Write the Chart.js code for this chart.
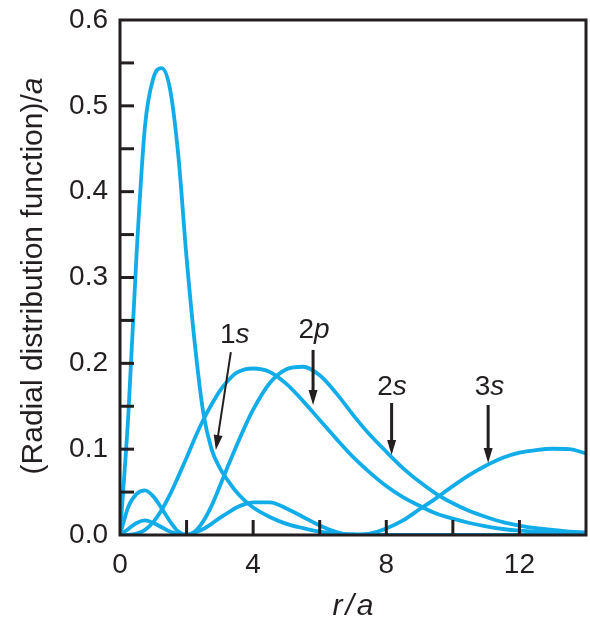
<!DOCTYPE html>
<html><head><meta charset="utf-8">
<script src="https://cdn.jsdelivr.net/npm/chart.js@4.4.1/dist/chart.umd.min.js"></script>
<style>html,body{margin:0;padding:0;background:#fff;}#wrap{width:590px;height:620px;}</style>
</head><body><div id="wrap"><canvas id="c" width="590" height="620"></canvas></div>
<script>
// r / a values (x) shared by all series
const rValues = [0,0.25,0.5,0.75,1,1.25,1.5,1.75,2,2.25,2.5,2.75,3,3.25,3.5,3.75,4,4.5,5,5.5,6,6.5,7,7.5,8,8.5,9,9.5,10,10.5,11,11.5,12,12.5,13,13.5,14];
const rdf1s = [0,0.14,0.329,0.476,0.532,0.544,0.52,0.443,0.323,0.222,0.143,0.1,0.078,0.063,0.05,0.04,0.032,0.021,0.013,0.008,0.004,0.002,0.001,0.0005,0,0,0,0,0,0,0,0,0,0,0,0,0];
const rdf2s = [0,0.033,0.048,0.052,0.045,0.031,0.016,0.004,0,0.004,0.016,0.034,0.057,0.081,0.104,0.126,0.146,0.177,0.193,0.196,0.186,0.165,0.14,0.117,0.097,0.078,0.062,0.048,0.037,0.028,0.021,0.015,0.011,0.008,0.006,0.004,0.003];
const rdf2p = [0,0.0001,0.0016,0.006,0.015,0.029,0.047,0.068,0.09,0.113,0.134,0.152,0.168,0.18,0.189,0.193,0.194,0.19,0.176,0.156,0.134,0.112,0.091,0.073,0.057,0.044,0.034,0.025,0.019,0.014,0.01,0.007,0.005,0.004,0.003,0.002,0.001];
const rdf3s = [0,0.007,0.014,0.017,0.014,0.009,0.004,0.001,0.0002,0.003,0.007,0.013,0.02,0.026,0.032,0.036,0.038,0.038,0.031,0.021,0.011,0.0035,0.0001,0.0016,0.0076,0.017,0.03,0.043,0.057,0.07,0.081,0.09,0.096,0.099,0.1005,0.1,0.095];
const xTickLabels = [0,4,8,12];
const yTickLabels = ['0.0','0.1','0.2','0.3','0.4','0.5','0.6'];
const curveNames = ['1s','2s','2p','3s'];

const INK = '#231f20';
const CYAN = '#12ade9';
const FAMILY = "'Liberation Sans', Arial, Helvetica, sans-serif";

// label annotations (data coordinates)
const notes = [
  {num:'1', letter:'s', tx:3.45, ty:0.224, from:[3.33,0.213], to:[2.88,0.099], w:2},
  {num:'2', letter:'p', tx:5.83, ty:0.2296, from:[5.8,0.2156], to:[5.8,0.1515], w:3},
  {num:'2', letter:'s', tx:8.17, ty:0.163, from:[8.16,0.1538], to:[8.16,0.0932], w:3},
  {num:'3', letter:'s', tx:11.1, ty:0.163, from:[11.06,0.1515], to:[11.06,0.0839], w:3}
];

function toPoints(ys){ return rValues.map((r,i)=>({x:r,y:ys[i]})); }
const series = [rdf1s, rdf2s, rdf2p, rdf3s];

const framePlugin = {
  id:'frame',
  afterDatasetsDraw(chart){
    const {ctx, chartArea:a, scales:{x,y}} = chart;
    ctx.save();
    ctx.strokeStyle = INK;
    ctx.lineWidth = 3;
    ctx.lineCap = 'butt';
    x.ticks.forEach(t=>{
      if (t.value<=x.min || t.value>=x.max) return;
      const px = x.getPixelForValue(t.value);
      ctx.beginPath(); ctx.moveTo(px,a.bottom); ctx.lineTo(px,a.bottom-15); ctx.stroke();
    });
    y.ticks.forEach(t=>{
      if (t.value<=y.min+1e-9 || t.value>=y.max-1e-9) return;
      const py = y.getPixelForValue(t.value);
      ctx.beginPath(); ctx.moveTo(a.left,py); ctx.lineTo(a.left+14,py); ctx.stroke();
    });
    ctx.beginPath();
    ctx.moveTo(a.left, a.top); ctx.lineTo(a.right, a.top);
    ctx.lineTo(a.right, a.bottom); ctx.lineTo(a.left, a.bottom); ctx.closePath();
    ctx.stroke();

    ctx.fillStyle = INK;
    ctx.textBaseline = 'alphabetic';
    notes.forEach(n=>{
      const fUp = '28px ' + FAMILY, fIt = 'italic 28px ' + FAMILY;
      ctx.font = fUp; const w1 = ctx.measureText(n.num).width;
      ctx.font = fIt; const w2 = ctx.measureText(n.letter).width;
      const cx = x.getPixelForValue(n.tx), cy = y.getPixelForValue(n.ty);
      const sx = cx - (w1+w2)/2;
      ctx.font = fUp; ctx.textAlign='left'; ctx.fillText(n.num, sx, cy);
      ctx.font = fIt; ctx.fillText(n.letter, sx+w1, cy);
      const x1 = x.getPixelForValue(n.from[0]), y1 = y.getPixelForValue(n.from[1]);
      const x2 = x.getPixelForValue(n.to[0]), y2 = y.getPixelForValue(n.to[1]);
      const ang = Math.atan2(y2-y1, x2-x1);
      const hl = 15, hw = 4.5;
      const bx = x2 - hl*Math.cos(ang), by = y2 - hl*Math.sin(ang);
      ctx.lineWidth = n.w;
      ctx.beginPath(); ctx.moveTo(x1,y1); ctx.lineTo(bx+2*Math.cos(ang),by+2*Math.sin(ang)); ctx.stroke();
      ctx.beginPath();
      ctx.moveTo(x2,y2);
      ctx.lineTo(bx + hw*Math.sin(ang), by - hw*Math.cos(ang));
      ctx.lineTo(bx - hw*Math.sin(ang), by + hw*Math.cos(ang));
      ctx.closePath(); ctx.fill();
    });

    ctx.textAlign = 'left';
    ctx.save();
    const yt1 = '(Radial distribution function)/', yt2 = 'a';
    ctx.font = '30px ' + FAMILY; const m1 = ctx.measureText(yt1).width;
    ctx.font = 'italic 30px ' + FAMILY; const m2 = ctx.measureText(yt2).width;
    ctx.translate(42, 276);
    ctx.rotate(-Math.PI/2);
    ctx.font = '30px ' + FAMILY;
    ctx.fillText(yt1, -(m1+m2)/2, 0);
    ctx.font = 'italic 30px ' + FAMILY;
    ctx.fillText(yt2, -(m1+m2)/2 + m1, 0);
    ctx.restore();
    ctx.font = 'italic 30px ' + FAMILY;
    const parts = ['r','/','a'];
    const ws = parts.map(p=>ctx.measureText(p).width);
    const gap = 3;
    const total = ws.reduce((s,v)=>s+v,0) + gap*2;
    let px = (a.left + a.right)/2 - total/2;
    parts.forEach((p,i)=>{ ctx.fillText(p, px, 615); px += ws[i] + gap; });
    ctx.restore();
  }
};

function zeroPad(s){ s.paddingTop = 0; s.paddingBottom = 0; s.paddingLeft = 0; s.paddingRight = 0; }

new Chart(document.getElementById('c'), {
  type:'line',
  data:{
    datasets: series.map((s,i)=>({
      label: curveNames[i],
      data: toPoints(s),
      borderColor: CYAN,
      borderWidth: 3.8,
      pointRadius: 0,
      fill: false,
      cubicInterpolationMode: 'monotone'
    }))
  },
  options:{
    responsive:false,
    animation:false,
    devicePixelRatio:1,
    layout:{padding:{top:20,right:4,left:0,bottom:0}},
    plugins:{legend:{display:false}, tooltip:{enabled:false}, title:{display:false}},
    scales:{
      x:{
        type:'linear', min:0, max:14,
        grid:{display:false, drawTicks:false},
        border:{display:false},
        afterFit(s){ s.height = 85; zeroPad(s); },
        ticks:{
          stepSize:2, autoSkip:false, maxRotation:0, padding:13,
          color:INK, font:{family:FAMILY, size:28},
          callback:(v)=> xTickLabels.includes(v) ? String(v) : ''
        }
      },
      y:{
        type:'linear', min:0, max:0.6,
        grid:{display:false, drawTicks:false},
        border:{display:false},
        afterFit(s){ s.width = 120; zeroPad(s); },
        ticks:{
          stepSize:0.05, autoSkip:false, padding:12,
          color:INK, font:{family:FAMILY, size:28},
          callback:(v)=>{ const k = Math.round(v*20); return k%2===0 ? yTickLabels[k/2] : ''; }
        }
      }
    }
  },
  plugins:[framePlugin]
});
</script></body></html>
